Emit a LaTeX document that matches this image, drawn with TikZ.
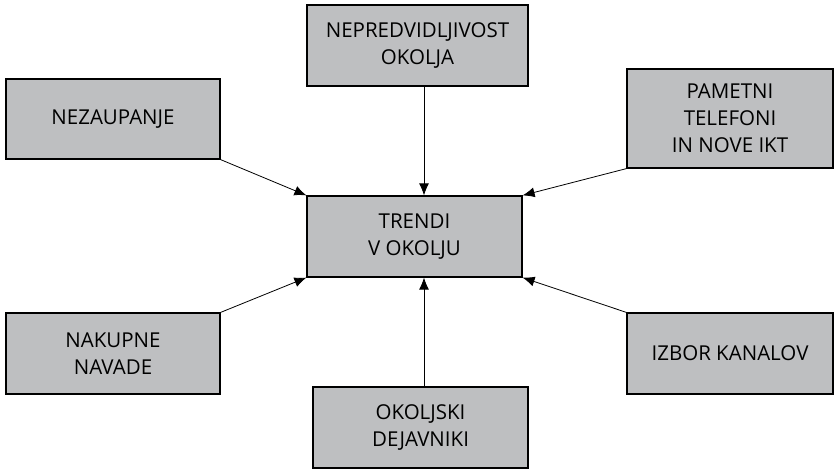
\documentclass[tikz,border=0pt]{standalone}
\usepackage{fontspec}
\setmainfont{Open Sans}
\usetikzlibrary{arrows.meta}
\definecolor{boxgray}{HTML}{BEBFC1}
\begin{document}
\begin{tikzpicture}[x=1pt,y=-1pt,
  factor/.style={draw=black,line width=1.2pt,fill=boxgray,inner sep=0pt,
    align=center,font=\fontsize{20.5}{27}\selectfont},
  link/.style={line width=0.8pt,-{Latex[length=12pt,width=10pt]}}]
  \useasboundingbox (0,0) rectangle (835,469);

  % central box
  \node[factor,minimum width=215pt,minimum height=81pt] (tr) at (414.5,236.5) {TRENDI\\V OKOLJU};

  % surrounding factors
  \node[factor,minimum width=221pt,minimum height=81pt] (top) at (417.5,45.5) {NEPREDVIDLJIVOST\\OKOLJA};
  \node[factor,minimum width=214pt,minimum height=80pt] (nez) at (113,119) {NEZAUPANJE};
  \node[factor,minimum width=206pt,minimum height=99pt] (pam) at (730,118.5) {PAMETNI\\TELEFONI\\IN NOVE IKT};
  \node[factor,minimum width=214pt,minimum height=81pt] (nak) at (113,353.5) {NAKUPNE\\NAVADE};
  \node[factor,minimum width=215pt,minimum height=81pt] (oko) at (420.5,427.5) {OKOLJSKI\\DEJAVNIKI};
  \node[factor,minimum width=206pt,minimum height=81pt] (izb) at (730,353.5) {IZBOR KANALOV};

  % arrows into the central box
  \draw[link] ([xshift=6.5pt]top.south) -- ([xshift=9.5pt]tr.north);
  \draw[link] ([xshift=3.5pt]oko.north) -- ([xshift=9.5pt]tr.south);
  \draw[link] (nez.south east) -- (tr.north west);
  \draw[link] (nak.north east) -- (tr.south west);
  \draw[link] (pam.south west) -- (tr.north east);
  \draw[link] (izb.north west) -- (tr.south east);
\end{tikzpicture}
\end{document}
